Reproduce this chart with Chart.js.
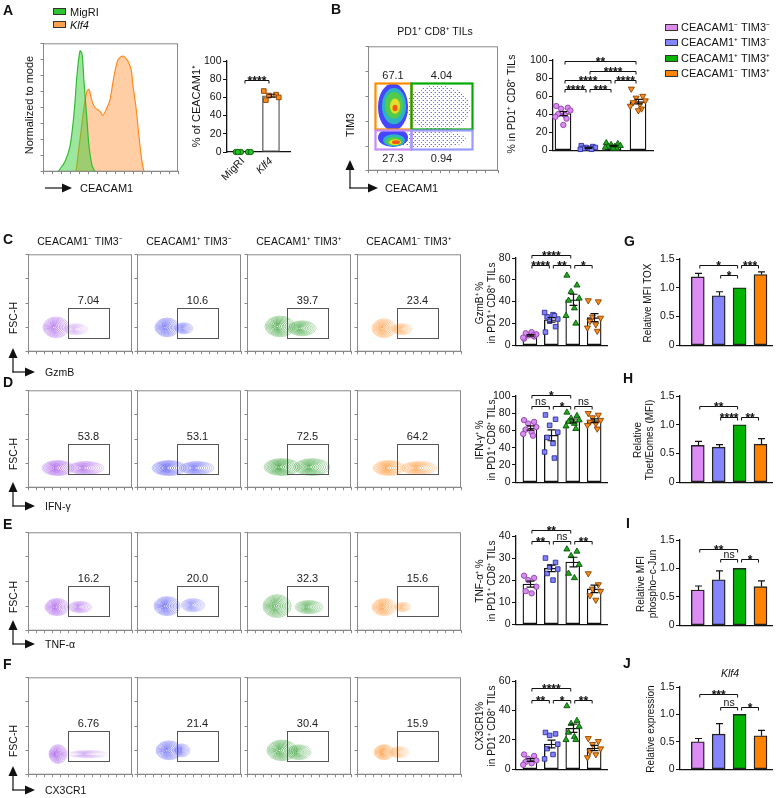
<!DOCTYPE html>
<html>
<head>
<meta charset="utf-8">
<title>CEACAM1 / TIM3 subsets</title>
<script src="https://cdn.jsdelivr.net/npm/chart.js@4.4.1/dist/chart.umd.min.js"></script>
<style>
  body { margin: 0; background: #fff; }
  #fig { position: relative; width: 780px; height: 798px; overflow: hidden; font-family: 'Liberation Sans', Arial, sans-serif; color: #111; }
  #fig canvas { position: absolute; }
  #arrows { position: absolute; left: 0; top: 0; z-index: 2; }
  .t { position: absolute; white-space: nowrap; line-height: 1; z-index: 3; }
  .c { transform: translate(-50%, -50%); }
  .l { transform: translateY(-50%); }
  .r { transform: translate(-50%, -50%) rotate(-90deg); text-align: center; line-height: 1.15; }
  .p { font-weight: bold; font-size: 14px; }
  .sw { position: absolute; width: 11px; height: 5px; border: 1px solid #333; z-index: 3; }
</style>
</head>
<body>
<div id="fig"><svg id="arrows" width="780" height="798"></svg></div>
<script>
// ---- values ----
const subsets = ['CEACAM1⁻ TIM3⁻', 'CEACAM1⁺ TIM3⁻', 'CEACAM1⁺ TIM3⁺', 'CEACAM1⁻ TIM3⁺'];

// A: CEACAM1 histogram, % of mode
const histMigriX = [15, 22, 27, 31, 34, 37, 39, 41, 44, 46, 49, 52];
const histMigriY = [0, 8, 20, 45, 75, 94, 92, 70, 40, 20, 5, 0];
const histKlf4X = [33, 37, 41, 44, 46, 49, 52, 57, 60, 64, 67, 70, 74, 77, 80, 83, 85, 88, 90, 93, 95, 97, 99, 101];
const histKlf4Y = [0, 25, 50, 63, 64, 55, 50, 47, 44, 50, 56, 70, 85, 89, 90, 88, 86, 80, 67, 50, 35, 20, 8, 0];

const vectorGroups = ['MigRI', 'Klf4'];
const ceacamPct = [[0, 0, 0, 0, 0], [67, 63, 62, 60, 57]];
const sigA = [[0, 1, 79, '****']];

// B: quadrants + % in PD1+ CD8+ TILs
const quadPct = ['67.1', '4.04', '27.3', '0.94'];
const subsetPct = [
  [49, 47, 46, 44, 40, 39, 37, 35, 28],
  [5, 4, 3, 3, 2, 2, 1, 1],
  [8, 7, 6, 5, 4, 4, 3, 2, 2],
  [68, 60, 58, 55, 53, 51, 49, 46, 44]
];
const sigB = [[0, 3, 99, '**'], [1, 3, 88, '****'], [0, 2, 78, '****'], [2, 3, 78, '****'], [0, 1, 68, '****'], [1, 2, 68, '***']];
// dot plot populations: [CEACAM1, TIM3, spreadX, spreadY, density level]
const tim3Density = [
  [70, 66, 32, 24, 0], [62, 33, 36, 9, 0],
  [25, 67, 15, 25, 1], [26, 68, 12, 19, 2], [26, 69, 9, 14, 3], [27, 68, 5, 8, 4], [27, 66, 2.5, 3.5, 5],
  [25, 35, 15, 10, 1], [26, 32, 11, 6.5, 2], [26, 31, 8, 4.5, 3], [27, 30, 6, 3, 4], [28, 30, 4, 2, 5]
];

// C-F: gate % on the contour plots
const gzmbGate = ['7.04', '10.6', '39.7', '23.4'];
const ifngGate = ['53.8', '53.1', '72.5', '64.2'];
const tnfaGate = ['16.2', '20.0', '32.3', '15.6'];
const cx3cr1Gate = ['6.76', '21.4', '30.4', '15.9'];

// contour populations per plot: [marker, FSC-H, spreadX, spreadY, weight]
const gzmbBlobs = [
  [[28, 26, 13, 11], [48, 24, 12, 6, 0.35]],
  [[30, 26, 12, 10], [47, 25, 9, 6, 0.6]],
  [[33, 27, 15, 11], [55, 25, 14, 8, 0.8]],
  [[27, 25, 12, 10], [45, 24, 10, 6, 0.6]]
];
const ifngBlobs = [
  [[30, 21, 16, 8], [58, 21, 18, 7, 0.8]],
  [[32, 21, 17, 8], [60, 21, 17, 7, 0.8]],
  [[35, 22, 18, 9], [65, 22, 18, 9, 0.9]],
  [[32, 21, 16, 8], [62, 21, 18, 7, 0.8]]
];
const tnfaBlobs = [
  [[29, 25, 12, 9], [52, 25, 12, 6, 0.6]],
  [[30, 26, 13, 10], [56, 27, 12, 7, 0.6]],
  [[30, 26, 14, 12], [62, 25, 14, 7, 0.7]],
  [[27, 25, 12, 9], [46, 25, 8, 5, 0.5]]
];
const cx3cr1Blobs = [
  [[30, 22, 9, 10], [60, 22, 20, 4, 0.3]],
  [[32, 26, 13, 10], [45, 26, 8, 7, 0.6]],
  [[35, 26, 15, 11], [52, 24, 12, 8, 0.7]],
  [[27, 24, 10, 8], [42, 24, 10, 6, 0.5]]
];

// C-F: % in PD1+ CD8+ TILs, per subset
const gzmbPct = [[6, 8, 9, 10, 11, 12, 7, 9], [12, 17, 22, 24, 26, 28, 30, 27], [64, 55, 49, 43, 41, 34, 27, 20], [41, 40, 26, 25, 22, 19, 16, 13]];
const ifngPct = [[72, 70, 68, 64, 61, 58, 56, 54], [78, 73, 66, 58, 52, 45, 35, 28], [81, 77, 74, 72, 70, 68, 65, 62], [80, 78, 75, 72, 70, 68, 66, 62]];
const tnfaPct = [[22, 21, 20, 17, 15, 14], [30, 28, 26, 25, 23, 20], [34, 33, 31, 27, 23, 21], [23, 18, 16, 15, 13, 11]];
const cx3cr1Pct = [[10, 9, 7, 6, 5, 4, 3], [25, 24, 23, 17, 14, 10, 7], [43, 33, 31, 29, 25, 22, 20, 20], [21, 19, 17, 14, 12, 10, 8]];
const sigC = [[0, 2, 83, '****'], [0, 1, 74, '****'], [1, 2, 74, '**'], [2, 3, 74, '*']];
const sigD = [[0, 2, 101, '*'], [0, 1, 88, 'ns'], [1, 2, 88, '*'], [2, 3, 88, 'ns']];
const sigE = [[0, 2, 42.5, '**'], [0, 1, 37.8, '**'], [1, 2, 37.8, 'ns'], [2, 3, 37.8, '**']];
const sigF = [[0, 2, 55, '****'], [0, 1, 47, '**'], [1, 2, 47, '*'], [2, 3, 47, '**']];

// G-J: mean and SEM
const toxMean = [1.19, 0.86, 1.0, 1.23], toxSem = [0.06, 0.07, 0, 0.045];
const tbetMean = [0.64, 0.61, 1.0, 0.66], tbetSem = [0.07, 0.045, 0, 0.1];
const cjunMean = [0.62, 0.8, 1.0, 0.68], cjunSem = [0.07, 0.155, 0, 0.1];
const klf4Mean = [0.5, 0.64, 1.0, 0.61], klf4Sem = [0.06, 0.19, 0, 0.1];
const sigG = [[0, 2, 1.4, '*'], [1, 2, 1.23, '*'], [2, 3, 1.4, '***']];
const sigH = [[0, 2, 1.33, '**'], [1, 2, 1.14, '****'], [2, 3, 1.14, '**']];
const sigI = [[0, 2, 1.34, '**'], [1, 2, 1.16, 'ns'], [2, 3, 1.16, '*']];
const sigJ = [[0, 2, 1.37, '***'], [1, 2, 1.14, 'ns'], [2, 3, 1.14, '*']];

// ---- styles ----
const FONT = "'Liberation Sans', Arial, sans-serif";
const SUBSET_FILL = ['#dc8cf2', '#8585ff', '#00b400', '#ff8200'];
const SUBSET_DOT = [
  { fill: '#d98cf0', line: '#8e3fae', shape: 'circle', r: 2.7 },
  { fill: '#8383ff', line: '#30309a', shape: 'rect', r: 3.2 },
  { fill: '#1fa81f', line: '#0a560a', shape: 'triangle', r: 3.5 },
  { fill: '#ff8a1c', line: '#8a4300', shape: 'triangle', r: 3.5, rot: 180 }
];
const VECTOR_DOT = [
  { fill: '#27c027', line: '#0b5e0b', shape: 'circle', r: 2.7 },
  { fill: '#ff8a1c', line: '#8a4300', shape: 'rect', r: 3.3 }
];
const CONTOUR = ['#a050e8', '#5252f5', '#229622', '#ff9330'];
const DENSITY = [null, '#4646ff', '#2db4c0', '#52cc48', '#e6dc2a', '#f05a14'];
const JIT = [-0.42, 0.3, -0.12, 0.46, -0.3, 0.12, -0.48, 0.22, 0.02];

Chart.defaults.font.family = FONT;
Chart.defaults.font.size = 10.5;
Chart.defaults.color = '#111';
Chart.defaults.animation = false;
Chart.defaults.responsive = false;
Chart.defaults.plugins.legend.display = false;
Chart.defaults.plugins.tooltip.enabled = false;

const fig = document.getElementById('fig');

// stipple used for the sparse events of the dot plot
const stipple = document.createElement('canvas');
stipple.width = 4; stipple.height = 4;
(function () {
  const s = stipple.getContext('2d');
  s.fillStyle = 'rgba(60,60,240,0.75)';
  s.fillRect(0, 0, 1, 1); s.fillRect(2, 2, 1, 1);
  s.fillStyle = 'rgba(60,60,240,0.3)';
  s.fillRect(3, 0, 1, 1);
})();

// canvas placed so that the chart area lands on area = [left, top, right, bottom]
function mount(area, m) {
  const w = Math.round(area[2] - area[0] + m[0] + m[2]);
  const h = Math.round(area[3] - area[1] + m[1] + m[3]);
  const c = document.createElement('canvas');
  c.width = w; c.height = h;
  c.style.left = (area[0] - m[0]) + 'px';
  c.style.top = (area[1] - m[1]) + 'px';
  c.style.width = w + 'px'; c.style.height = h + 'px';
  fig.appendChild(c);
  return c;
}
function pad(m, yw, xh) {
  return { left: m[0] - yw, top: m[1], right: m[2], bottom: m[3] - xh };
}

function yAxis(max, step, fmt) {
  return {
    min: 0, max,
    afterFit: s => { s.width = 26; },
    ticks: { stepSize: step, padding: 1.5, callback: fmt || (v => v) },
    grid: { drawOnChartArea: false, tickLength: 4, color: '#111' },
    border: { color: '#111', width: 1.3 }
  };
}
function frameAxis(min, max, step, isX) {
  return {
    type: 'linear', min, max, offset: false,
    afterFit: s => { if (isX) s.height = 4; else s.width = 4; },
    ticks: { stepSize: step, padding: 0, callback: () => '' },
    grid: { drawOnChartArea: false, tickLength: 2.5, color: '#888' },
    border: { color: '#888', width: 1 }
  };
}

// extra drawing: frames, gates, contours, error bars, brackets
function deco(o) {
  function ell(ctx, x, y, cx, cy, rx, ry) {
    const px = x.getPixelForValue(cx), py = y.getPixelForValue(cy);
    const sx = Math.abs(x.getPixelForValue(cx + rx) - px), sy = Math.abs(y.getPixelForValue(cy + ry) - py);
    ctx.beginPath();
    ctx.ellipse(px, py, Math.max(sx, 0.1), Math.max(sy, 0.1), 0, 0, Math.PI * 2);
  }
  return {
    id: 'deco',
    beforeDatasetsDraw(chart) {
      const { ctx, chartArea: a, scales: { x, y } } = chart;
      ctx.save();
      ctx.beginPath(); ctx.rect(a.left, a.top, a.width, a.height); ctx.clip();
      (o.density || []).forEach(([cx, cy, rx, ry, lv]) => {
        ell(ctx, x, y, cx, cy, rx, ry);
        ctx.fillStyle = lv === 0 ? ctx.createPattern(stipple, 'repeat') : DENSITY[lv];
        ctx.fill();
      });
      (o.blobs || []).forEach(([cx, cy, rx, ry, w]) => {
        const rings = 10;
        for (let k = rings; k >= 1; k--) {
          const f = k / rings;
          ell(ctx, x, y, cx - rx * (1 - f) * 0.2, cy, rx * f, ry * f);
          ctx.globalAlpha = Math.min(1, (w || 1) * (0.42 + 0.6 * (1 - f)));
          ctx.strokeStyle = o.color; ctx.lineWidth = 0.8; ctx.stroke();
        }
      });
      ctx.restore();
    },
    afterDatasetsDraw(chart) {
      const { ctx, chartArea: a, scales: { x, y } } = chart;
      ctx.save();
      if (o.frame) {
        ctx.strokeStyle = o.frame; ctx.lineWidth = 1;
        ctx.strokeRect(a.left + 0.5, a.top + 0.5, a.width - 1, a.height - 1);
      }
      (o.gates || []).forEach(g => {
        const x0 = x.getPixelForValue(g.x[0]), x1 = x.getPixelForValue(g.x[1]);
        const y0 = y.getPixelForValue(g.y[0]), y1 = y.getPixelForValue(g.y[1]);
        ctx.strokeStyle = g.color; ctx.lineWidth = g.lw || 1;
        ctx.strokeRect(Math.round(x0) + 0.5, Math.round(y1) + 0.5, Math.round(x1 - x0), Math.round(y0 - y1));
        ctx.fillStyle = '#222'; ctx.font = '11px ' + FONT; ctx.textAlign = 'center';
        if (g.pos === 'below') {
          ctx.textBaseline = 'top'; ctx.fillText(g.label, (x0 + x1) / 2, y0 + 5);
        } else {
          ctx.textBaseline = 'alphabetic'; ctx.fillText(g.label, (x0 + x1) / 2, y1 - 4);
        }
      });
      (o.err || []).forEach(([i, m, s]) => {
        if (!s) return;
        const px = Math.round(x.getPixelForValue(i)) + 0.5;
        const top = y.getPixelForValue(m + s), bot = y.getPixelForValue(o.upper ? m : m - s);
        const cw = o.cap || 4;
        ctx.strokeStyle = '#111'; ctx.lineWidth = 1.2;
        ctx.beginPath();
        ctx.moveTo(px, top); ctx.lineTo(px, bot);
        ctx.moveTo(px - cw, top); ctx.lineTo(px + cw, top);
        if (!o.upper) { ctx.moveTo(px - cw, bot); ctx.lineTo(px + cw, bot); }
        ctx.stroke();
      });
      (o.sig || []).forEach(([i, j, v, label]) => {
        const xa = x.getPixelForValue(i) + 2, xb = x.getPixelForValue(j) - 2;
        const py = Math.round(y.getPixelForValue(v)) + 0.5;
        ctx.strokeStyle = '#111'; ctx.lineWidth = 1;
        ctx.beginPath();
        ctx.moveTo(xa, py + 3); ctx.lineTo(xa, py); ctx.lineTo(xb, py); ctx.lineTo(xb, py + 3);
        ctx.stroke();
        const star = label[0] === '*';
        ctx.fillStyle = '#111'; ctx.textAlign = 'center'; ctx.textBaseline = 'alphabetic';
        ctx.font = (star ? 'bold 12px ' : '10.5px ') + FONT;
        ctx.fillText(label, (xa + xb) / 2, star ? py + 4 : py - 2);
      });
      ctx.restore();
    }
  };
}

// white bar (mean) + individual dots + SEM
function dotBar(area, groups, o) {
  const m = [32, 24, 6, o.labels ? 40 : 6], XH = o.labels ? 36 : 0;
  const canvas = mount(area, m);
  const unit = (area[2] - area[0]) / (o.xr[1] - o.xr[0]);
  const means = groups.map(v => v.reduce((a, b) => a + b, 0) / v.length);
  const sems = groups.map((v, i) => Math.sqrt(v.reduce((a, b) => a + (b - means[i]) ** 2, 0) / (v.length - 1) / v.length));
  const datasets = [{
    type: 'bar', order: 3,
    data: means.map((v, i) => ({ x: i, y: v })),
    backgroundColor: '#fff', borderColor: o.barLine || '#111', borderWidth: 1.3,
    borderSkipped: false, barThickness: o.barW
  }];
  groups.forEach((vals, i) => {
    const st = o.styles[i];
    datasets.push({
      type: 'scatter', order: 1, clip: false,
      data: vals.map((v, k) => ({ x: i + JIT[k % JIT.length] * o.barW / unit, y: v })),
      pointStyle: st.shape, rotation: st.rot || 0, radius: st.r,
      backgroundColor: st.fill, borderColor: st.line, borderWidth: 0.9
    });
  });
  new Chart(canvas, {
    type: 'scatter',
    data: { datasets },
    options: {
      devicePixelRatio: 1,
      layout: { padding: pad(m, 26, XH) },
      scales: {
        x: {
          type: 'linear', offset: false, min: o.xr[0], max: o.xr[1],
          afterBuildTicks: s => { s.ticks = (o.labels || []).map((_, i) => ({ value: i })); },
          afterFit: s => { s.height = XH; },
          ticks: {
            display: !!o.labels, autoSkip: false, minRotation: 45, maxRotation: 45, padding: 3,
            callback: v => (o.labels || [])[v],
            font: c => ({ size: 10.5, style: o.italic && o.italic[c.index] ? 'italic' : 'normal' })
          },
          grid: { display: false, drawTicks: false },
          border: { color: '#111', width: 1.3 }
        },
        y: yAxis(o.max, o.step)
      }
    },
    plugins: [deco({ err: means.map((v, i) => [i, v, sems[i]]), sig: o.sig, cap: 4 })]
  });
}

// coloured bars with upper SEM only
function colorBar(area, means, sems, sig) {
  const m = [32, 24, 6, 6];
  const canvas = mount(area, m);
  new Chart(canvas, {
    type: 'scatter',
    data: {
      datasets: [{
        type: 'bar', data: means.map((v, i) => ({ x: i, y: v })),
        backgroundColor: SUBSET_FILL, borderColor: '#222', borderWidth: 1.4,
        borderSkipped: false, barThickness: 13
      }]
    },
    options: {
      devicePixelRatio: 1,
      layout: { padding: pad(m, 26, 0) },
      scales: {
        x: {
          type: 'linear', offset: false, min: -0.85, max: 3.55,
          afterFit: s => { s.height = 0; },
          ticks: { display: false }, grid: { display: false, drawTicks: false },
          border: { color: '#111', width: 1.3 }
        },
        y: yAxis(1.5, 0.5, v => v === 0 ? '0' : v.toFixed(1))
      }
    },
    plugins: [deco({ err: means.map((v, i) => [i, v, sems[i]]), upper: true, cap: 3.5, sig })]
  });
}

// contour plot with a single gate
function flowPlot(area, blobs, color, label) {
  const m = [5, 1, 1, 5];
  const canvas = mount(area, m);
  new Chart(canvas, {
    type: 'scatter',
    data: { datasets: [] },
    options: {
      devicePixelRatio: 1,
      layout: { padding: pad(m, 4, 4) },
      scales: { x: frameAxis(0, 104, 8, true), y: frameAxis(0, 104, 13, false) }
    },
    plugins: [deco({
      frame: '#8a8a8a', blobs, color,
      gates: [{ x: [40, 81], y: [15, 47], color: '#555', label, pos: 'above' }]
    })]
  });
}

// ---- A ----
(function () {
  const m = [5, 1, 1, 5];
  const canvas = mount([43, 38, 178, 173], m);
  new Chart(canvas, {
    type: 'line',
    data: {
      datasets: [
        { data: histMigriX.map((x, i) => ({ x, y: histMigriY[i] })), borderColor: '#33bb33', backgroundColor: 'rgba(60,205,60,0.5)', fill: 'origin', tension: 0.35, pointRadius: 0, borderWidth: 1.2 },
        { data: histKlf4X.map((x, i) => ({ x, y: histKlf4Y[i] })), borderColor: '#ff8a20', backgroundColor: 'rgba(255,165,90,0.55)', fill: 'origin', tension: 0.35, pointRadius: 0, borderWidth: 1.2 }
      ]
    },
    options: {
      devicePixelRatio: 1,
      layout: { padding: pad(m, 4, 4) },
      scales: { x: frameAxis(0, 135, 9, true), y: frameAxis(0, 100, 12.5, false) }
    },
    plugins: [deco({ frame: '#8a8a8a' })]
  });
})();

dotBar([227, 61, 290, 152], ceacamPct, {
  max: 100, step: 20, xr: [-0.57, 1.68], barW: 17, styles: VECTOR_DOT, sig: sigA,
  labels: vectorGroups, italic: [false, true], barLine: '#555'
});

// ---- B ----
(function () {
  const m = [5, 1, 1, 5];
  const canvas = mount([368, 41, 498, 172], m);
  new Chart(canvas, {
    type: 'scatter',
    data: { datasets: [] },
    options: {
      devicePixelRatio: 1,
      layout: { padding: pad(m, 4, 4) },
      scales: { x: frameAxis(0, 130, 9, true), y: frameAxis(0, 131, 13, false) }
    },
    plugins: [deco({
      frame: '#8a8a8a', density: tim3Density,
      gates: [
        { x: [7, 43], y: [44, 92], color: '#ff8c00', lw: 2.2, label: quadPct[0], pos: 'above' },
        { x: [43, 104], y: [44, 92], color: '#00aa00', lw: 2.2, label: quadPct[1], pos: 'above' },
        { x: [7, 43], y: [23, 43], color: '#c78cf5', lw: 2.2, label: quadPct[2], pos: 'below' },
        { x: [43, 104], y: [23, 43], color: '#9a9aff', lw: 2.2, label: quadPct[3], pos: 'below' }
      ]
    })]
  });
})();

dotBar([553, 60, 653, 152], subsetPct, { max: 100, step: 20, xr: [-0.4, 3.6], barW: 16, styles: SUBSET_DOT, sig: sigB });

// ---- C-F ----
const flowCols = [[28, 132], [137, 241], [247, 351], [357, 461]];
const flowRows = [
  { frame: [249, 353], arrow: 372, marker: 'GzmB', gates: gzmbGate, blobs: gzmbBlobs },
  { frame: [385, 489], arrow: 506, marker: 'IFN-γ', gates: ifngGate, blobs: ifngBlobs },
  { frame: [527, 632], arrow: 644, marker: 'TNF-α', gates: tnfaGate, blobs: tnfaBlobs },
  { frame: [672, 776], arrow: 790, marker: 'CX3CR1', gates: cx3cr1Gate, blobs: cx3cr1Blobs }
];
flowRows.forEach(row => {
  flowCols.forEach((col, j) => {
    flowPlot([col[0], row.frame[0], col[1], row.frame[1]], row.blobs[j], CONTOUR[j], row.gates[j]);
  });
});

const statRows = [
  { area: [516, 258, 607, 347], vals: gzmbPct, max: 80, step: 20, sig: sigC, title: 'GzmB⁺ %' },
  { area: [516, 396, 607, 484], vals: ifngPct, max: 100, step: 20, sig: sigD, title: 'IFN-γ⁺ %' },
  { area: [516, 536, 607, 626], vals: tnfaPct, max: 40, step: 10, sig: sigE, title: 'TNF-α⁺ %' },
  { area: [516, 681, 607, 771], vals: cx3cr1Pct, max: 60, step: 20, sig: sigF, title: 'CX3CR1%' }
];
statRows.forEach(r => dotBar(r.area, r.vals, { max: r.max, step: r.step, xr: [-0.65, 3.6], barW: 14, styles: SUBSET_DOT, sig: r.sig }));

// ---- G-J ----
const mfiRows = [
  { area: [680, 259, 772, 347], mean: toxMean, sem: toxSem, sig: sigG, title: 'Relative MFI TOX', tx: 648 },
  { area: [680, 396, 772, 484], mean: tbetMean, sem: tbetSem, sig: sigH, title: 'Relative<br>Tbet/Eomes (MFI)', tx: 643 },
  { area: [680, 540, 772, 627], mean: cjunMean, sem: cjunSem, sig: sigI, title: 'Relative MFI<br>phospho−c-Jun', tx: 646 },
  { area: [680, 687, 772, 771], mean: klf4Mean, sem: klf4Sem, sig: sigJ, title: 'Relative expression', tx: 651 }
];
mfiRows.forEach(r => colorBar(r.area, r.mean, r.sem, r.sig));

// ---- text ----
function text(s, x, y, cls, size, extra) {
  const d = document.createElement('div');
  d.className = 't ' + cls;
  d.innerHTML = s;
  d.style.left = x + 'px'; d.style.top = y + 'px';
  if (size) d.style.fontSize = size + 'px';
  if (extra) Object.assign(d.style, extra);
  fig.appendChild(d);
}
function swatch(x, y, color) {
  const d = document.createElement('div');
  d.className = 'sw';
  d.style.left = x + 'px'; d.style.top = y + 'px'; d.style.background = color;
  fig.appendChild(d);
}

[['A', 3, 3], ['B', 331, 2], ['C', 3, 232], ['D', 3, 375], ['E', 3, 517], ['F', 3, 657],
 ['G', 624, 234], ['H', 623, 371], ['I', 626, 516], ['J', 623, 656]].forEach(p => text(p[0], p[1], p[2], 'p'));

swatch(53, 8, '#2fc42f');
swatch(53, 21, '#ffa050');
text('MigRI', 70, 12, 'l', 11);
text('<i>Klf4</i>', 70, 25, 'l', 11);
text('Normalized to mode', 29, 105, 'r', 11);
text('% of CEACAM1⁺', 196, 106, 'r', 11);
text('CEACAM1', 80, 188, 'l', 11);

text('PD1⁺ CD8⁺ TILs', 435, 31, 'c', 10.5);
text('TIM3', 350, 125, 'r', 10.5);
text('CEACAM1', 385, 188, 'l', 11);
text('% in PD1⁺ CD8⁺ TILs', 511, 104, 'r', 10.5);
subsets.forEach((s, i) => {
  swatch(665, 24 + 15.3 * i, SUBSET_FILL[i]);
  text(s, 681, 27 + 15.3 * i, 'l', 11);
});

flowCols.forEach((col, j) => text(subsets[j], (col[0] + col[1]) / 2, 241, 'c', 10.5));
flowRows.forEach(row => {
  text('FSC-H', 13, row.frame[1] - 35, 'r', 10.5);
  text(row.marker, 45, row.arrow, 'l', 10.5);
});
statRows.forEach(r => text(r.title + '<br>in PD1⁺ CD8⁺ TILs', 485, (r.area[1] + r.area[3]) / 2, 'r', 10));
mfiRows.forEach(r => text(r.title, r.tx, (r.area[1] + r.area[3]) / 2, 'r', 10));
text('<i>Klf4</i>', 730, 673, 'c', 10.5);

// ---- axis arrows ----
const svg = document.getElementById('arrows');
function arrow(x1, y1, x2, y2) {
  const a = Math.atan2(y2 - y1, x2 - x1), L = 10, W = 4.5;
  const bx = x2 - L * Math.cos(a), by = y2 - L * Math.sin(a);
  svg.insertAdjacentHTML('beforeend',
    `<line x1="${x1}" y1="${y1}" x2="${bx}" y2="${by}" stroke="#111" stroke-width="1.2"/>` +
    `<polygon points="${x2},${y2} ${bx + W * Math.sin(a)},${by - W * Math.cos(a)} ${bx - W * Math.sin(a)},${by + W * Math.cos(a)}" fill="#111"/>`);
}
arrow(45, 188, 72, 188);
arrow(350, 188.5, 350, 160);
arrow(349.4, 188, 378, 188);
flowRows.forEach(row => {
  arrow(13, row.arrow + 0.5, 13, row.arrow - 24);
  arrow(12.4, row.arrow, 35, row.arrow);
});
</script>
</body>
</html>
